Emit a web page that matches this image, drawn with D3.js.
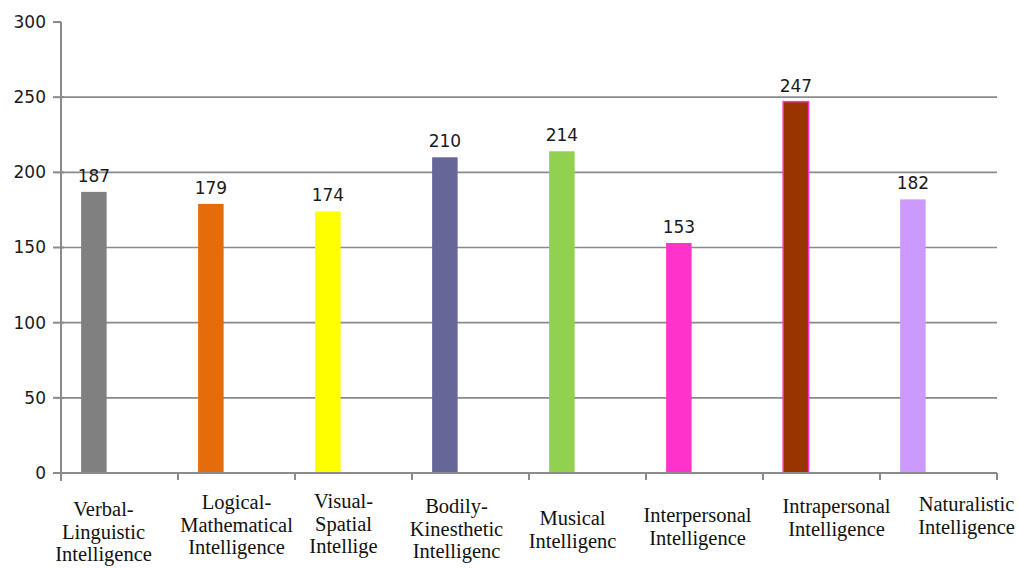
<!DOCTYPE html>
<head>
    <meta charset="utf-8">
    <script src="https://d3js.org/d3.v7.min.js"></script>
    <style>
        body { margin:0; background:#fff; }
        .grid line { stroke: #8a8a8a; stroke-width: 1.6; }
        .axis path, .axis line { stroke: #8a8a8a; stroke-width: 2; fill: none; }
        .ytick { font-family: "DejaVu Sans", sans-serif; font-size: 17px; fill: #1a1a1a; text-anchor: end; }
        .value { font-family: "DejaVu Sans", sans-serif; font-size: 17px; fill: #1a1a1a; text-anchor: middle; }
        .cat { font-family: "Liberation Serif", "Times New Roman", serif; font-size: 20.5px; fill: #111; text-anchor: middle; }
    </style>
</head>
<body>
<script>
    // data
    var categories = ['Verbal-Linguistic', 'Logical-Mathematical', 'Visual-Spatial', 'Bodily-Kinesthetic',
        'Musical', 'Interpersonal', 'Intrapersonal', 'Naturalistic'];
    var values = [187, 179, 174, 210, 214, 153, 247, 182];
    var catLabels = [
        ['Verbal-', 'Linguistic', 'Intelligence'],
        ['Logical-', 'Mathematical', 'Intelligence'],
        ['Visual-', 'Spatial', 'Intellige'],
        ['Bodily-', 'Kinesthetic', 'Intelligenc'],
        ['Musical', 'Intelligenc'],
        ['Interpersonal', 'Intelligence'],
        ['Intrapersonal', 'Intelligence'],
        ['Naturalistic', 'Intelligence']
    ];
    var yTicks = [0, 50, 100, 150, 200, 250, 300];

    // styling / layout
    var colors = ['#808080', '#e46c0a', '#ffff00', '#666699', '#92d050', '#ff33cc', '#993300', '#cc99ff'];
    var borders = [null, null, null, null, null, null, '#ff33cc', null];
    // labels in the scan are not placed evenly: nudge [dx, first baseline]
    var labelNudge = [[-16, 516], [0, 509], [-10, 508], [-14, 513], [-15, 525], [-7, 522], [15, 513], [28, 511]];

    var width = 1019, height = 568;
    var mLeft = 61, mRight = 997, mTop = 22, mBottom = 473;

    var svg = d3.select('body').append('svg')
        .attr('width', width)
        .attr('height', height);

    var x = d3.scaleBand().domain(categories).range([mLeft, mRight]);
    var y = d3.scaleLinear().domain([0, 300]).range([mBottom, mTop]);
    var bw = x.bandwidth();

    // gridlines
    svg.append('g').attr('class', 'grid')
        .selectAll('line')
        .data(yTicks.filter(d => d > 0 && d < 300))
        .enter().append('line')
        .attr('x1', mLeft).attr('x2', mRight)
        .attr('y1', d => y(d)).attr('y2', d => y(d));

    // bars
    svg.selectAll('.bar')
        .data(values)
        .enter().append('rect')
        .attr('class', 'bar')
        .attr('x', (d, i) => x(categories[i]) + bw * 0.172)
        .attr('y', d => y(d))
        .attr('width', bw * 0.218)
        .attr('height', d => mBottom - y(d))
        .attr('fill', (d, i) => colors[i])
        .attr('stroke', (d, i) => borders[i] || 'none')
        .attr('stroke-width', 1.5);

    // value labels
    svg.selectAll('.value')
        .data(values)
        .enter().append('text')
        .attr('class', 'value')
        .attr('x', (d, i) => x(categories[i]) + bw * 0.172 + bw * 0.109)
        .attr('y', d => y(d) - 10)
        .text(d => d);

    // y axis
    var ya = svg.append('g').attr('class', 'axis');
    ya.append('line')
        .attr('x1', mLeft).attr('x2', mLeft)
        .attr('y1', y(300)).attr('y2', mBottom + 8);
    ya.selectAll('.tk')
        .data(yTicks)
        .enter().append('line')
        .attr('x1', mLeft - 8).attr('x2', d => d === 300 ? mLeft : mLeft + 3)
        .attr('y1', d => y(d)).attr('y2', d => y(d));
    ya.selectAll('.ytick')
        .data(yTicks)
        .enter().append('text')
        .attr('class', 'ytick')
        .attr('x', mLeft - 15)
        .attr('y', d => y(d))
        .attr('dy', '0.35em')
        .text(d => d);

    // x axis
    var xa = svg.append('g').attr('class', 'axis');
    xa.append('line')
        .attr('x1', mLeft).attr('x2', mRight)
        .attr('y1', mBottom).attr('y2', mBottom);
    xa.selectAll('.xt')
        .data(categories.map(c => x(c)).concat([mRight]))
        .enter().append('line')
        .attr('x1', d => d).attr('x2', d => d)
        .attr('y1', mBottom).attr('y2', mBottom + 7);

    // category labels
    var cl = svg.selectAll('.cat')
        .data(catLabels)
        .enter().append('text')
        .attr('class', 'cat')
        .attr('transform', (d, i) => 'translate(' + (x(categories[i]) + bw / 2 + labelNudge[i][0]) + ',' + labelNudge[i][1] + ')');
    cl.selectAll('tspan')
        .data(d => d)
        .enter().append('tspan')
        .attr('x', 0)
        .attr('y', (d, i) => i * 22.5)
        .text(d => d);
</script>
</body>
